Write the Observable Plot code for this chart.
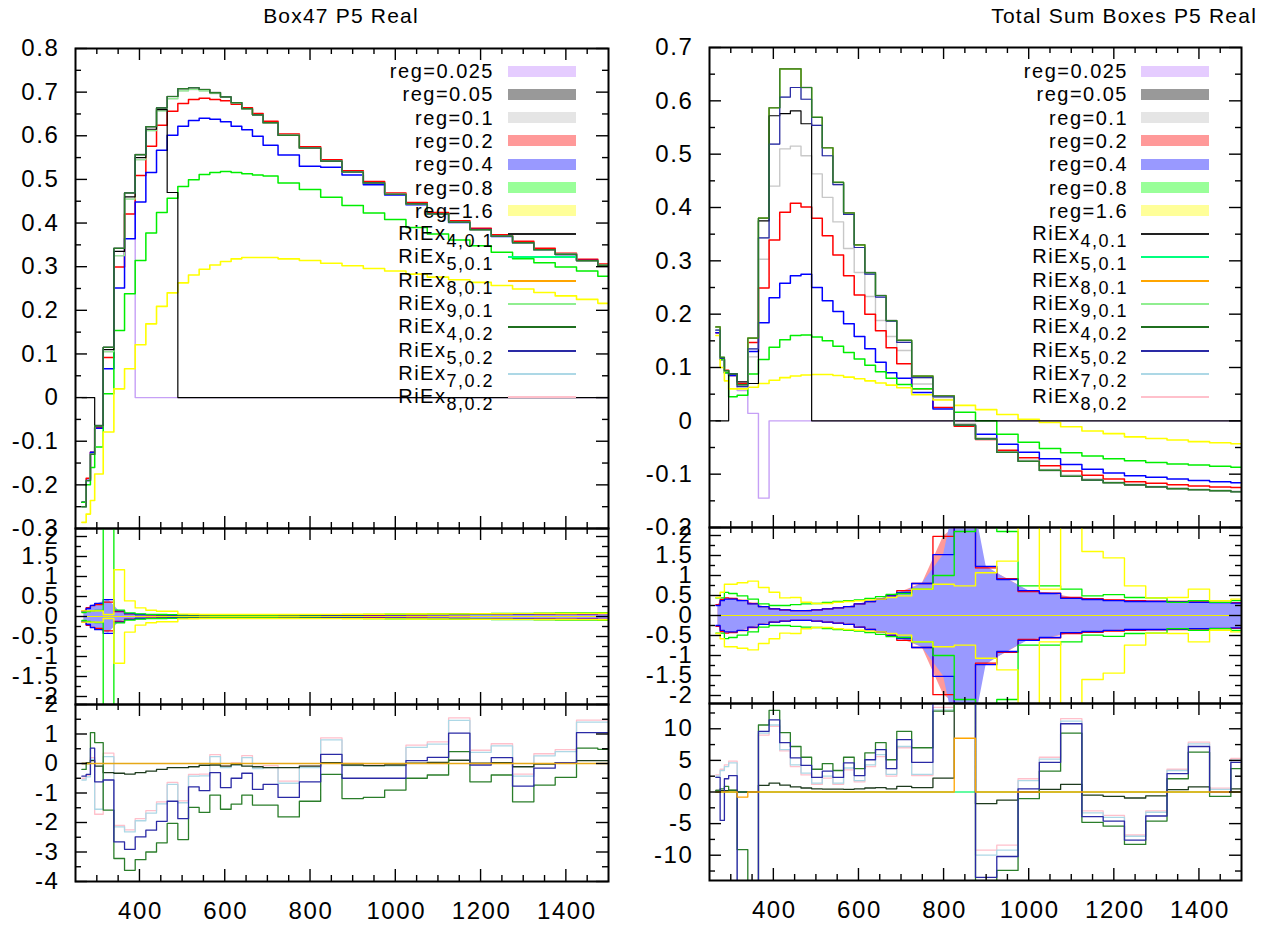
<!DOCTYPE html>
<html>
<head>
<meta charset="utf-8">
<script src="https://cdn.jsdelivr.net/npm/d3@7"></script>
<script src="https://cdn.jsdelivr.net/npm/@observablehq/plot@0.6"></script>
<style>
html,body{margin:0;padding:0;background:#fff;}
#root{position:relative;width:1273px;height:930px;overflow:hidden;font-family:"Liberation Sans",Arial,sans-serif;color:#000;}
#root svg{position:absolute;overflow:visible;background:transparent;}
.ttl{position:absolute;font-size:21px;line-height:26px;letter-spacing:1.2px;white-space:nowrap;width:400px;}
.lt{position:absolute;font-size:20px;line-height:24px;letter-spacing:1.5px;text-align:right;white-space:nowrap;width:300px;}
.sw{position:absolute;width:68px;}
.sub{font-size:18px;position:relative;top:7px;}
</style>
</head>
<body>
<div id="root"></div>
<script>
// ---------- bins ----------
const edges = [265, 275, 285, 295, 315, 340, 365, 390, 415, 440, 465, 490, 515, 540, 565, 590, 615, 640, 665, 690, 725, 775, 825, 875, 925, 975, 1025, 1075, 1125, 1175, 1225, 1275, 1325, 1375, 1425, 1475, 1525];
const xDomain = [250, 1500];
const xMajor = [400, 600, 800, 1000, 1200, 1400];
const xMinor = [300, 350, 450, 500, 550, 650, 700, 750, 850, 900, 950, 1050, 1100, 1150, 1250, 1300, 1350, 1450];

// ---------- tick labels ----------
const yTopL = [-0.3, -0.2, -0.1, 0, 0.1, 0.2, 0.3, 0.4, 0.5, 0.6, 0.7, 0.8];
const yTopLMinor = [-0.25, -0.15, -0.05, 0.05, 0.15, 0.25, 0.35, 0.45, 0.55, 0.65, 0.75];
const yTopR = [-0.2, -0.1, 0, 0.1, 0.2, 0.3, 0.4, 0.5, 0.6, 0.7];
const yTopRMinor = [-0.15, -0.05, 0.05, 0.15, 0.25, 0.35, 0.45, 0.55, 0.65];
const yMid = [-2, -1.5, -1, -0.5, 0, 0.5, 1, 1.5, 2];
const yMidMinor = [-1.75, -1.25, -0.75, -0.25, 0.25, 0.75, 1.25, 1.75];
const yBotL = [-4, -3, -2, -1, 0, 1, 2];
const yBotLMinor = [-3.5, -2.5, -1.5, -0.5, 0.5, 1.5];
const yBotR = [-10, -5, 0, 5, 10];
const yBotRMinor = [-12.5, -7.5, -2.5, 2.5, 7.5, 12.5];

// ---------- top-left: Box47 ----------
const mainL   = [-0.25, -0.19, -0.13, -0.064, 0.115, 0.342, 0.469, 0.557, 0.621, 0.664, 0.690, 0.708, 0.710, 0.706, 0.699, 0.689, 0.676, 0.662, 0.648, 0.630, 0.601, 0.572, 0.542, 0.517, 0.492, 0.466, 0.444, 0.421, 0.402, 0.385, 0.370, 0.355, 0.339, 0.328, 0.314, 0.303];
const lgrayL  = [-0.25, -0.19, -0.13, -0.066, 0.105, 0.325, 0.455, 0.545, 0.612, 0.657, 0.685, 0.703, 0.706, 0.703, 0.697, 0.688, 0.676, 0.662, 0.648, 0.630, 0.601, 0.572, 0.542, 0.517, 0.492, 0.466, 0.444, 0.421, 0.402, 0.385, 0.370, 0.355, 0.339, 0.328, 0.314, 0.303];
const redL    = [-0.24, -0.185, -0.125, -0.068, 0.092, 0.299, 0.421, 0.509, 0.576, 0.624, 0.656, 0.674, 0.683, 0.686, 0.683, 0.680, 0.672, 0.664, 0.651, 0.633, 0.604, 0.575, 0.545, 0.520, 0.495, 0.469, 0.447, 0.424, 0.405, 0.388, 0.373, 0.358, 0.342, 0.331, 0.317, 0.306];
const blueL   = [-0.24, -0.19, -0.125, -0.07, 0.066, 0.251, 0.364, 0.448, 0.516, 0.567, 0.601, 0.622, 0.635, 0.640, 0.638, 0.632, 0.622, 0.614, 0.599, 0.578, 0.556, 0.530, 0.528, 0.510, 0.488, 0.464, 0.442, 0.420, 0.401, 0.385, 0.369, 0.354, 0.339, 0.328, 0.314, 0.302];
const greenL  = [-0.24, -0.20, -0.16, -0.113, 0.009, 0.154, 0.238, 0.314, 0.377, 0.424, 0.457, 0.484, 0.499, 0.511, 0.516, 0.518, 0.516, 0.513, 0.510, 0.508, 0.492, 0.477, 0.459, 0.440, 0.423, 0.408, 0.390, 0.375, 0.361, 0.348, 0.333, 0.318, 0.309, 0.299, 0.290, 0.278];
const yellowL = [-0.286, -0.267, -0.236, -0.175, -0.079, 0.020, 0.066, 0.121, 0.169, 0.209, 0.240, 0.263, 0.281, 0.294, 0.304, 0.312, 0.318, 0.321, 0.321, 0.321, 0.318, 0.314, 0.308, 0.302, 0.296, 0.290, 0.283, 0.276, 0.270, 0.264, 0.257, 0.249, 0.241, 0.233, 0.225, 0.216];
const purpleL = [-0.25, -0.19, -0.13, -0.064, 0.115, 0.342, 0.469, 0, 0, 0, 0, 0, 0, 0, 0, 0, 0, 0, 0, 0, 0, 0, 0, 0, 0, 0, 0, 0, 0, 0, 0, 0, 0, 0, 0, 0];
const blackL  = [0, 0, 0, -0.065, 0.11, 0.335, 0.46, 0.55, 0.615, 0.66, 0.47, 0, 0, 0, 0, 0, 0, 0, 0, 0, 0, 0, 0, 0, 0, 0, 0, 0, 0, 0, 0, 0, 0, 0, 0, 0];

// ---------- top-right: Total Sum ----------
const mainR   = [0.176, 0.119, 0.094, 0.088, 0.068, 0.155, 0.380, 0.587, 0.660, 0.660, 0.625, 0.569, 0.512, 0.447, 0.390, 0.330, 0.278, 0.235, 0.188, 0.151, 0.084, 0.047, -0.008, -0.034, -0.059, -0.076, -0.093, -0.104, -0.111, -0.116, -0.120, -0.124, -0.127, -0.129, -0.131, -0.133];
const groupR  = [0.17, 0.117, 0.094, 0.088, 0.064, 0.135, 0.343, 0.519, 0.607, 0.625, 0.603, 0.554, 0.497, 0.443, 0.387, 0.325, 0.275, 0.232, 0.187, 0.147, 0.081, 0.045, -0.008, -0.034, -0.059, -0.076, -0.093, -0.104, -0.111, -0.116, -0.120, -0.124, -0.127, -0.129, -0.131, -0.133];
const lgrayR  = [0.17, 0.115, 0.09, 0.085, 0.065, 0.12, 0.303, 0.44, 0.51, 0.515, 0.497, 0.463, 0.419, 0.373, 0.323, 0.278, 0.233, 0.188, 0.158, 0.132, 0.069, 0.040, -0.005, -0.032, -0.057, -0.074, -0.091, -0.102, -0.109, -0.115, -0.119, -0.123, -0.126, -0.128, -0.130, -0.132];
const redR    = [0.165, 0.115, 0.095, 0.085, 0.07, 0.147, 0.249, 0.339, 0.391, 0.408, 0.401, 0.380, 0.347, 0.311, 0.272, 0.236, 0.200, 0.169, 0.137, 0.107, 0.060, 0.025, -0.010, -0.035, -0.055, -0.069, -0.084, -0.094, -0.102, -0.109, -0.114, -0.117, -0.120, -0.122, -0.124, -0.125];
const blueR   = [0.165, 0.115, 0.09, 0.085, 0.065, 0.13, 0.184, 0.231, 0.258, 0.272, 0.275, 0.250, 0.225, 0.205, 0.182, 0.158, 0.135, 0.110, 0.090, 0.080, 0.053, 0.022, -0.008, -0.025, -0.044, -0.059, -0.071, -0.082, -0.091, -0.098, -0.103, -0.106, -0.109, -0.112, -0.114, -0.116];
const greenR  = [0.17, 0.115, 0.09, 0.045, 0.048, 0.088, 0.115, 0.138, 0.152, 0.160, 0.161, 0.157, 0.150, 0.140, 0.128, 0.116, 0.104, 0.092, 0.080, 0.068, 0.060, 0.047, 0.016, 0.0, -0.025, -0.040, -0.052, -0.060, -0.066, -0.071, -0.075, -0.078, -0.081, -0.083, -0.085, -0.087];
const yellowR = [0.16, 0.10, 0.075, 0.06, 0.06, 0.063, 0.07, 0.076, 0.081, 0.084, 0.086, 0.087, 0.087, 0.085, 0.082, 0.079, 0.075, 0.071, 0.067, 0.062, 0.049, 0.039, 0.029, 0.021, 0.012, 0.003, -0.003, -0.011, -0.019, -0.024, -0.030, -0.033, -0.036, -0.039, -0.041, -0.043];
const purpleR = [0.176, 0.119, 0.094, 0.088, 0.057, 0.014, -0.145, 0, 0, 0, 0, 0, 0, 0, 0, 0, 0, 0, 0, 0, 0, 0, 0, 0, 0, 0, 0, 0, 0, 0, 0, 0, 0, 0, 0, 0];
const blackR  = [0, 0, 0, 0.088, 0.073, 0.07, 0.375, 0.572, 0.576, 0.581, 0.557, 0, 0, 0, 0, 0, 0, 0, 0, 0, 0, 0, 0, 0, 0, 0, 0, 0, 0, 0, 0, 0, 0, 0, 0, 0];

// ---------- middle panels (half widths of the bands) ----------
const redML    = [0.14, 0.22, 0.27, 0.3, 0.36, 0.12, 0.065, 0.048, 0.043, 0.038, 0.035, 0.033, 0.031, 0.03, 0.029, 0.028, 0.028, 0.028, 0.028, 0.029, 0.03, 0.032, 0.034, 0.036, 0.038, 0.041, 0.044, 0.047, 0.05, 0.053, 0.056, 0.059, 0.062, 0.065, 0.068, 0.07];
const blueML   = [0.12, 0.2, 0.28, 0.33, 0.42, 0.14, 0.07, 0.05, 0.045, 0.04, 0.037, 0.035, 0.033, 0.032, 0.031, 0.03, 0.03, 0.03, 0.03, 0.031, 0.032, 0.034, 0.036, 0.038, 0.041, 0.044, 0.047, 0.05, 0.053, 0.056, 0.06, 0.063, 0.066, 0.07, 0.073, 0.076];
const greenML  = [0.1, 0.12, 0.14, 0.15, 5, 0.16, 0.09, 0.065, 0.055, 0.05, 0.046, 0.043, 0.04, 0.039, 0.038, 0.037, 0.037, 0.037, 0.037, 0.038, 0.04, 0.042, 0.045, 0.048, 0.052, 0.056, 0.06, 0.064, 0.068, 0.072, 0.076, 0.08, 0.084, 0.088, 0.092, 0.095];
const yellowML = [0.14, 0.14, 0.14, 0.14, 0.05, 1.17, 0.39, 0.215, 0.157, 0.13, 0.13, 0.06, 0.055, 0.05, 0.05, 0.05, 0.05, 0.05, 0.05, 0.05, 0.05, 0.052, 0.054, 0.056, 0.058, 0.06, 0.062, 0.064, 0.066, 0.068, 0.07, 0.072, 0.074, 0.076, 0.078, 0.08];
const redMR    = [0.27, 0.4, 0.44, 0.43, 0.38, 0.3, 0.22, 0.165, 0.14, 0.123, 0.123, 0.14, 0.165, 0.19, 0.22, 0.29, 0.35, 0.41, 0.5, 0.62, 0.8, 1.98, 2.4, 1.19, 0.92, 0.6, 0.56, 0.45, 0.42, 0.39, 0.37, 0.36, 0.35, 0.34, 0.33, 0.32];
const blueMR   = [0.25, 0.37, 0.41, 0.41, 0.37, 0.29, 0.22, 0.165, 0.14, 0.123, 0.123, 0.14, 0.165, 0.19, 0.22, 0.29, 0.35, 0.41, 0.49, 0.58, 0.8, 1.52, 4, 1.23, 0.9, 0.62, 0.55, 0.43, 0.40, 0.37, 0.35, 0.35, 0.34, 0.33, 0.32, 0.31];
const greenMR  = [0.44, 0.44, 0.58, 0.55, 0.49, 0.41, 0.29, 0.25, 0.25, 0.27, 0.29, 0.30, 0.33, 0.35, 0.37, 0.39, 0.43, 0.47, 0.53, 0.55, 0.66, 1.0, 2.1, 5, 2.1, 0.74, 0.74, 0.66, 0.49, 0.52, 0.45, 0.44, 0.33, 0.37, 0.33, 0.37];
const yellowMR = [0.45, 0.58, 0.78, 0.78, 0.82, 0.86, 0.70, 0.58, 0.44, 0.45, 0.33, 0.30, 0.30, 0.33, 0.35, 0.37, 0.39, 0.41, 0.45, 0.49, 0.66, 0.78, 0.74, 1.07, 1.36, 5, 0.66, 5, 1.6, 1.44, 0.74, 0.44, 0.45, 0.66, 0.37, 0.41];
const zeroLine = [0];

// ---------- bottom panels (RiEx differences) ----------
const dgreenBL = [-0.2, 0.0, 1.05, 0.71, -1.58, -3.22, -3.62, -3.26, -3.0, -2.69, -2.03, -2.58, -1.49, -1.66, -1.07, -1.55, -1.38, -1.07, -1.41, -1.41, -1.81, -1.28, -0.37, -1.19, -1.15, -0.9, -0.5, -0.39, 0.40, -0.62, -0.39, -1.3, -0.73, -0.47, 0.52, 0.48];
const dblueBL  = [-0.43, -0.37, 0.52, -0.62, -0.56, -2.66, -2.91, -2.49, -2.26, -1.96, -1.28, -1.87, -0.79, -0.92, -0.31, -0.82, -0.5, -0.33, -0.88, -0.71, -1.15, -0.62, 0.31, -0.5, -0.5, -0.5, 0.1, 0.21, 1.03, -0.05, 0.2, -0.77, -0.16, 0.03, 1.05, 1.05];
const lblueBL  = [-0.56, -0.45, 0.14, -1.55, 0.23, -2.15, -2.32, -1.94, -1.68, -1.37, -0.71, -1.33, -0.43, -0.42, 0.23, -0.14, -0.05, 0.2, -0.17, -0.14, -0.67, -0.14, 0.8, -0.07, -0.08, -0.08, 0.55, 0.66, 1.46, 0.38, 0.6, -0.43, 0.26, 0.4, 1.4, 1.4];
const pinkBL   = [-0.5, -0.4, 0.2, -1.72, 0.35, -2.1, -2.25, -1.87, -1.6, -1.3, -0.64, -1.27, -0.37, -0.36, 0.3, -0.07, 0.02, 0.27, -0.1, -0.07, -0.6, -0.08, 0.87, 0.0, -0.01, -0.01, 0.62, 0.73, 1.55, 0.45, 0.67, -0.36, 0.33, 0.47, 1.47, 1.47];
const blackBL  = [0.0, 0.03, 0.1, -0.09, -0.31, -0.33, -0.36, -0.31, -0.26, -0.2, -0.14, -0.14, -0.11, -0.06, -0.05, -0.09, -0.04, -0.09, -0.11, -0.14, -0.14, -0.09, 0.03, -0.05, -0.07, -0.05, 0.01, 0.04, 0.11, 0.01, 0.03, -0.11, -0.02, 0.03, 0.1, 0.1];
const flatBL   = [0, 0, 0, 0, 0, 0, 0, 0, 0, 0, 0, 0, 0, 0, 0, 0, 0, 0, 0, 0, 0, 0, 0, 0, 0, 0, 0, 0, 0, 0, 0, 0, 0, 0, 0, 0];
const dgreenBR = [0.27, 0.5, 0.9, 0.3, -9.1, -20, 10.6, 12.9, 9.4, 7.2, 5.5, 3.6, 4.5, 3.4, 5.5, 3.7, 6.2, 7.8, 5.1, 9.6, 7.0, 12.8, 20, -20, -12.4, -1.05, 3.3, 9.3, -4.8, -5.4, -8.3, -4.6, 2.1, 6.3, -0.7, 3.7];
const dblueBR  = [2.3, -4.5, 2.1, 2.6, -20, -20, 9.6, 11.4, 7.8, 5.4, 4.2, 2.3, 3.3, 2.3, 4.6, 2.6, 5.1, 6.7, 3.7, 8.3, 4.7, 20, 20, -13.5, -10.2, 0.5, 4.7, 10.8, -3.9, -4.6, -7.6, -3.8, 2.9, 7.2, 0.0, 4.7];
const lblueBR  = [2.5, 3.4, 4.0, 4.6, -20, -20, 9.3, 10.6, 6.7, 4.3, 3.0, 1.4, 2.5, 1.4, 3.8, 1.8, 4.3, 5.9, 2.8, 7.2, 2.8, 13.0, 20, -10.0, -9.2, 1.8, 5.2, 11.2, -3.3, -4.0, -7.0, -3.2, 3.4, 7.6, 0.4, 5.0];
const pinkBR   = [2.7, 3.6, 4.3, 4.9, -20, -20, 9.0, 10.4, 6.5, 4.0, 2.7, 1.2, 2.2, 1.2, 3.5, 1.6, 4.0, 5.6, 2.5, 7.0, 2.6, 13.4, 20, -9.2, -8.4, 2.1, 5.5, 11.6, -3.0, -3.7, -6.8, -3.0, 3.6, 7.9, 0.6, 5.3];
const blackBR  = [0.26, 0.2, 0.2, 0.26, 0.0, 0.0, 1.05, 1.4, 1.1, 0.8, 0.63, 0.5, 0.47, 0.47, 0.42, 0.5, 0.63, 0.68, 0.5, 0.9, 0.7, 2.2, 20, -1.84, -1.3, 0.0, 0.4, 1.2, -0.5, -0.7, -0.95, -0.6, 0.37, 0.8, 0.0, 0.5];
const orangeBR = [0, 0, 0, 0, -0.8, 0, 0, 0, 0, 0, 0, 0, 0, 0, 0, 0, 0, 0, 0, 0, 0, 0, 8.5, 0, 0, 0, 0, 0, 0, 0, 0, 0, 0, 0, 0, 0];
const flatBR   = [0, 0, 0, 0, 0, 0, 0, 0, 0, 0, 0, 0, 0, 0, 0, 0, 0, 0, 0, 0, 0, 0, 0, 0, 0, 0, 0, 0, 0, 0, 0, 0, 0, 0, 0, 0];

// ---------- legend ----------
const regLabels = ["reg=0.025", "reg=0.05", "reg=0.1", "reg=0.2", "reg=0.4", "reg=0.8", "reg=1.6"];
const regFills  = ["#e5ccff", "#999999", "#e5e5e5", "#ff9999", "#9999ff", "#99ff99", "#ffff99"];
const riexSubs  = ["4,0.1", "5,0.1", "8,0.1", "9,0.1", "4,0.2", "5,0.2", "7,0.2", "8,0.2"];
const riexColors = ["#222222", "#00ff7f", "#ffa500", "#90ee90", "#1f6f1f", "#2a2aa5", "#add8e6", "#ffc0cb"];

const C = {purple: "#c6a0f6", dgray: "#7f7f7f", lgray: "#c8c8c8", red: "#ff0000", blue: "#0000ff", green: "#00ee00", yellow: "#ffff00",
  black: "#000000", sgreen: "#00ff7f", orange: "#ffa500", lgreen: "#90ee90", dgreen: "#2a7d2a", dblue: "#2a2aa5", lblue: "#add8e6", pink: "#ffc0cb",
  blueFill: "#9999ff", redFill: "#ff9999"};

const root = document.getElementById("root");
const steps = vals => edges.map((e, i) => ({x: e, y: vals[Math.min(i, vals.length - 1)]}));
const neg = vals => vals.map(v => -v);
const centers = edges.slice(0, -1).map((e, i) => (e + edges[i + 1]) / 2);
const bandPts = vals => centers.map((c, i) => ({x: c, y: vals[i]}));

function stepLine(vals, stroke, w = 1.4) {
  return Plot.line(steps(vals), {x: "x", y: "y", curve: "step-after", stroke, strokeWidth: w, clip: true});
}
function symLines(vals, stroke, w = 1.4) {
  return [stepLine(vals, stroke, w), stepLine(neg(vals), stroke, w)];
}
function fillBand(vals, fill) {
  return Plot.areaY(bandPts(vals), {x: "x", y1: d => -d.y, y2: "y", fill, curve: "linear", clip: true});
}
const fmt1 = d => (d === 0 ? "0" : d.toFixed(1));
const fmtS = d => String(d);

function panel(p) {
  const mL = 80, mR = 12, mT = 16, mB = p.xLabels ? 52 : 16;
  const fw = p.x1 - p.x0, fh = p.y1 - p.y0;
  const svg = Plot.plot({
    width: fw + mL + mR, height: fh + mT + mB,
    marginLeft: mL, marginRight: mR, marginTop: mT, marginBottom: mB,
    x: {domain: xDomain, axis: null},
    y: {domain: p.yDomain, axis: null},
    style: {fontFamily: "'Liberation Sans', Arial, sans-serif", fontSize: "24px", letterSpacing: "1.6px", background: "transparent", overflow: "visible"},
    marks: [
      ...p.marks,
      Plot.tickY(p.yMajor, {y: d => d, insetRight: fw - 12, stroke: "#000", strokeWidth: 1.4}),
      Plot.tickY(p.yMajor, {y: d => d, insetLeft: fw - 12, stroke: "#000", strokeWidth: 1.4}),
      Plot.tickY(p.yMinor, {y: d => d, insetRight: fw - 6, stroke: "#000", strokeWidth: 1.4}),
      Plot.tickY(p.yMinor, {y: d => d, insetLeft: fw - 6, stroke: "#000", strokeWidth: 1.4}),
      Plot.tickX(xMajor, {x: d => d, insetTop: fh - 12, stroke: "#000", strokeWidth: 1.4}),
      Plot.tickX(xMajor, {x: d => d, insetBottom: fh - 12, stroke: "#000", strokeWidth: 1.4}),
      Plot.tickX(xMinor, {x: d => d, insetTop: fh - 6, stroke: "#000", strokeWidth: 1.4}),
      Plot.tickX(xMinor, {x: d => d, insetBottom: fh - 6, stroke: "#000", strokeWidth: 1.4}),
      Plot.text(p.yMajor, {y: d => d, text: p.fmt, frameAnchor: "left", textAnchor: "end", dx: -16, fontSize: 24}),
      p.xLabels ? Plot.text(xMajor, {x: d => d, text: d => String(d), frameAnchor: "bottom", lineAnchor: "top", dy: 20, dx: 1, fontSize: 24}) : null,
      Plot.frame({stroke: "#000", strokeWidth: 2})
    ]
  });
  svg.style.left = (p.x0 - mL) + "px";
  svg.style.top = (p.y0 - mT) + "px";
  root.appendChild(svg);
}

const LX0 = 75, LX1 = 608, RX0 = 709, RX1 = 1241;

// top-left
panel({x0: LX0, x1: LX1, y0: 48, y1: 528, yDomain: [-0.3, 0.8], yMajor: yTopL, yMinor: yTopLMinor, fmt: fmt1, marks: [
  stepLine(purpleL, C.purple), stepLine(mainL, C.dgray), stepLine(lgrayL, C.lgray),
  stepLine(redL, C.red, 1.5), stepLine(blueL, C.blue, 1.5), stepLine(greenL, C.green, 1.5), stepLine(yellowL, C.yellow, 1.6),
  stepLine(mainL, C.pink, 1.2), stepLine(mainL, C.lblue, 1.2), stepLine(lgrayL, C.lgreen, 1.2),
  stepLine(mainL, C.sgreen, 1.2), stepLine(mainL, C.orange, 1.2), stepLine(blackL, C.black, 1.2),
  stepLine(mainL, C.dblue, 1.2), stepLine(mainL, C.dgreen, 1.2)
]});
// middle-left
panel({x0: LX0, x1: LX1, y0: 528, y1: 704, yDomain: [-2.2, 2.2], yMajor: yMid, yMinor: yMidMinor, fmt: fmtS, marks: [
  fillBand(redML, C.redFill), fillBand(blueML, C.blueFill),
  ...symLines(redML, C.red, 1.3), ...symLines(blueML, C.blue, 1.3), ...symLines(greenML, C.green, 1.3), ...symLines(yellowML, C.yellow, 1.4),
  Plot.ruleY(zeroLine, {y: d => d, stroke: "#f0f000", strokeWidth: 1.2})
]});
// bottom-left
panel({x0: LX0, x1: LX1, y0: 704, y1: 881, yDomain: [-4, 2], yMajor: yBotL, yMinor: yBotLMinor, fmt: fmtS, xLabels: true, marks: [
  stepLine(flatBL, C.lgreen, 1.2), stepLine(flatBL, C.sgreen, 1.2),
  stepLine(pinkBL, C.pink, 1.3), stepLine(lblueBL, C.lblue, 1.3),
  stepLine(blackBL, "#1d3a1d", 1.3), stepLine(dgreenBL, C.dgreen, 1.3), stepLine(dblueBL, C.dblue, 1.3),
  stepLine(flatBL, "#e6a817", 1.3)
]});

// top-right
panel({x0: RX0, x1: RX1, y0: 47, y1: 527, yDomain: [-0.2, 0.7], yMajor: yTopR, yMinor: yTopRMinor, fmt: fmt1, marks: [
  stepLine(purpleR, C.purple), stepLine(mainR, C.dgray), stepLine(lgrayR, C.lgray),
  stepLine(redR, C.red, 1.5), stepLine(blueR, C.blue, 1.5), stepLine(greenR, C.green, 1.5), stepLine(yellowR, C.yellow, 1.6),
  stepLine(groupR, C.pink, 1.2), stepLine(groupR, C.lblue, 1.2), stepLine(mainR, C.lgreen, 1.2),
  stepLine(mainR, C.sgreen, 1.2), stepLine(mainR, C.orange, 1.2), stepLine(blackR, C.black, 1.2),
  stepLine(groupR, C.dblue, 1.2), stepLine(mainR, C.dgreen, 1.2)
]});
// middle-right
panel({x0: RX0, x1: RX1, y0: 527, y1: 703, yDomain: [-2.2, 2.2], yMajor: yMid, yMinor: yMidMinor, fmt: fmtS, marks: [
  fillBand(redMR, C.redFill), fillBand(blueMR, C.blueFill),
  ...symLines(redMR, C.red, 1.3), ...symLines(blueMR, C.blue, 1.3), ...symLines(greenMR, C.green, 1.3), ...symLines(yellowMR, C.yellow, 1.4),
  Plot.ruleY(zeroLine, {y: d => d, stroke: "#f0f000", strokeWidth: 1.2})
]});
// bottom-right
panel({x0: RX0, x1: RX1, y0: 703, y1: 880, yDomain: [-14, 14], yMajor: yBotR, yMinor: yBotRMinor, fmt: fmtS, xLabels: true, marks: [
  stepLine(flatBR, C.lgreen, 1.2), stepLine(flatBR, C.sgreen, 1.2),
  stepLine(pinkBR, C.pink, 1.3), stepLine(lblueBR, C.lblue, 1.3),
  stepLine(blackBR, "#1d3a1d", 1.3), stepLine(dgreenBR, C.dgreen, 1.3), stepLine(dblueBR, C.dblue, 1.3),
  stepLine(orangeBR, "#ffa500", 1.3)
]});

// ---------- titles ----------
function addDiv(cls, html, css) {
  const d = document.createElement("div");
  d.className = cls; d.innerHTML = html;
  Object.assign(d.style, css);
  root.appendChild(d);
  return d;
}
addDiv("ttl", "Box47 P5 Real", {left: (341 - 200) + "px", top: "3px", textAlign: "center"});
addDiv("ttl", "Total Sum Boxes P5 Real", {left: (1257 - 400) + "px", top: "3px", textAlign: "right"});

// ---------- legends ----------
function legend(textRight, swLeft) {
  const rowY = i => 71 + i * 23.3;
  regLabels.forEach((lab, i) => {
    addDiv("lt", lab, {left: (textRight - 300) + "px", top: (rowY(i) - 12) + "px"});
    addDiv("sw", "", {left: swLeft + "px", top: (rowY(i) - 5.5) + "px", height: "11px", background: regFills[i]});
  });
  riexSubs.forEach((s, j) => {
    const i = j + regLabels.length;
    addDiv("lt", 'RiEx<span class="sub">' + s + "</span>", {left: (textRight - 300) + "px", top: (rowY(i) - 13) + "px"});
    addDiv("sw", "", {left: swLeft + "px", top: (rowY(i) - 1) + "px", height: "2px", background: riexColors[j]});
  });
}
legend(494, 508);
legend(1128, 1141);
</script>
</body>
</html>
